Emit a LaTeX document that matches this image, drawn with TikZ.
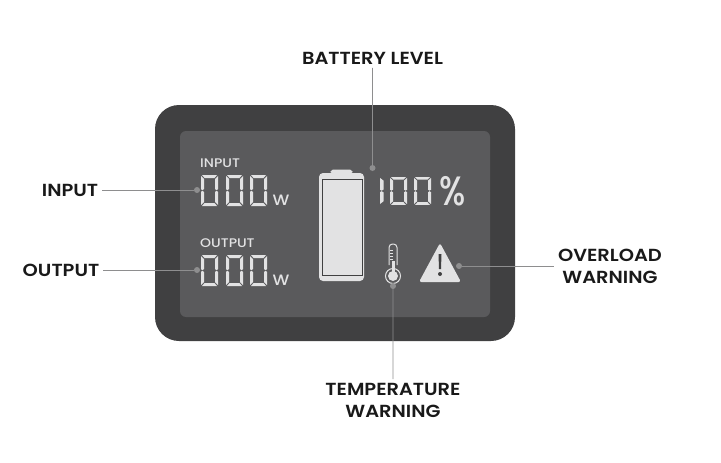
\documentclass[tikz,border=0pt]{standalone}
\usepackage{fontspec}
\setmainfont{Poppins}[BoldFont=Poppins SemiBold]
\newfontfamily\lcdfont{Poppins Medium}
\usetikzlibrary{positioning}

\definecolor{casegray}{HTML}{404041}
\definecolor{screengray}{HTML}{5A5A5C}
\definecolor{lcdlight}{HTML}{E2E2E3}
\definecolor{leadgray}{HTML}{8E8E8F}

\tikzset{
	callout/.style={font=\fontsize{17.5}{22}\selectfont\bfseries, text=black!90, align=center, inner sep=3.5pt, xscale=1.11},
	lcdtext/.style={font=\fontsize{12.5}{13}\selectfont\lcdfont, text=lcdlight, inner sep=0pt, xscale=1.12},
	leaddot/.style={circle, fill=leadgray, inner sep=0pt, minimum size=6pt},
	lead/.style={draw=leadgray, line width=0.9pt},
	segment/.style={fill=lcdlight},
	pics/lcdone/.style={code={
		\fill[segment] (0,1) -- (3.5,4) -- (3.5,14) -- (1.5,15.2) -- (0,14.2) -- cycle;
		\fill[segment] (0,16.8) -- (1.5,15.8) -- (3.5,17) -- (3.5,27) -- (0,30) -- cycle;
	}},
	pics/lcdzero/.style={code={
		\fill[segment] (1,0) -- (16,0) -- (13.5,3) -- (3.5,3) -- cycle;
		\fill[segment] (1,31) -- (16,31) -- (13.5,28) -- (3.5,28) -- cycle;
		\fill[segment] (0,1) -- (3,4) -- (3,14) -- (1.5,15.2) -- (0,14.2) -- cycle;
		\fill[segment] (0,16.8) -- (1.5,15.8) -- (3,17) -- (3,27) -- (0,30) -- cycle;
		\fill[segment] (17,1) -- (14,4) -- (14,14) -- (15.5,15.2) -- (17,14.2) -- cycle;
		\fill[segment] (17,16.8) -- (15.5,15.8) -- (14,17) -- (14,27) -- (17,30) -- cycle;
	}}
}

\begin{document}
\begin{tikzpicture} [
						x=1pt,
						y=-1pt,
						node distance=100pt
					]

\useasboundingbox (0,0) rectangle (721,463);

% housing and screen
\fill[casegray, rounded corners=24pt] (155,105) rectangle (515,341);
\fill[screengray, rounded corners=6pt] (180,131) rectangle (490,317);

% readouts
\node (inputtext) [lcdtext, anchor=west] at (200,163) {INPUT};
\node (outputtext) [lcdtext, anchor=west] at (200,243) {OUTPUT};
\foreach \x in {201,226,250} {
	\pic at (\x,175) {lcdzero};
	\pic at (\x,255) {lcdzero};
}
\node (inputunit) [lcdtext, font=\fontsize{15}{15}\selectfont\lcdfont, xscale=1] at (281,200) {W};
\node (outputunit) [lcdtext, font=\fontsize{15}{15}\selectfont\lcdfont, xscale=1] at (281,280) {W};
\pic at (380,177) [yscale=0.9] {lcdone};
\pic at (390,177) [yscale=0.9] {lcdzero};
\pic at (414,177) [yscale=0.9] {lcdzero};
\node (percent) [lcdtext, font=\fontsize{41}{41}\selectfont\lcdfont, xscale=0.72] at (453,191) {\%};

% battery
\fill[lcdlight, rounded corners=2pt] (330,173) -- (331,169.5) -- (352,169.5) -- (353,173) -- cycle;
\fill[lcdlight, rounded corners=4pt] (319,173) rectangle (364,281);
\draw[casegray, line width=0.9pt] (322,179) rectangle (362,275);

% thermometer
\draw[lcdlight, line width=1pt, fill=screengray, rounded corners=3.5pt] (389,265) -- (389,244) -- (397,244) -- (397,265);
\draw[lcdlight, line width=1pt, fill=screengray] (393,276) circle (7.5pt);
\fill[lcdlight] (393,276) circle (5pt);
\fill[lcdlight] (391.5,261) rectangle (394.5,274);
\foreach \y in {250,253,256,259} {
	\draw[lcdlight, line width=0.8pt] (390,\y) -- (393,\y);
}

% warning sign
\fill[lcdlight, rounded corners=2.5pt] (440,243) -- (461,282) -- (419,282) -- cycle;
\fill[casegray] (438.5,254) -- (441.5,254) -- (441,269) -- (439,269) -- cycle;
\fill[casegray] (440,274) circle (2pt);

% callouts
\node (batterydot) [leaddot] at (372.5,168) {};
\node (inputdot) [leaddot] at (197,190) {};
\node (outputdot) [leaddot] at (197,270) {};
\node (tempdot) [leaddot] at (393,286) {};
\node (overloaddot) [leaddot] at (459,266) {};

\node (battery) [callout, above of=batterydot, node distance=110pt] {BATTERY LEVEL};
\node (input) [callout, left of=inputdot, node distance=114.4pt] {INPUT};
\node (output) [callout, left of=outputdot, node distance=122.5pt] {OUTPUT};
\node (temp) [callout, below of=tempdot, node distance=114pt] {TEMPERATURE\\WARNING};
\node (overload) [callout, right of=overloaddot, node distance=136pt] {OVERLOAD\\WARNING};

\path[lead]
	(battery) edge (batterydot)
	(input) edge (inputdot)
	(output) edge (outputdot)
	(temp) edge (tempdot)
	(overload) edge (overloaddot);
\end{tikzpicture}
\end{document}
